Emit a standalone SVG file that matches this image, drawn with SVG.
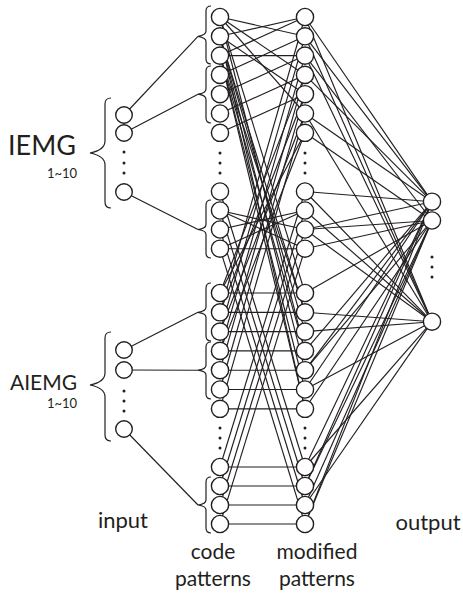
<svg xmlns="http://www.w3.org/2000/svg" width="463" height="593" viewBox="0 0 463 593">
<style>
.n circle{fill:#fff;stroke:#231f20;stroke-width:1.4}
.c line{stroke:#231f20;stroke-width:1.15}
.br{fill:none;stroke:#231f20;stroke-width:1.2}
.d{fill:#231f20}
text{font-family:Lato,"Liberation Sans",sans-serif;fill:#231f20}
</style>
<rect width="463" height="593" fill="#fff"/>
<g id="connectors" class="c">
<!-- input to code braces -->
<line x1="124" y1="115" x2="198" y2="36.3"/>
<line x1="124" y1="133" x2="198" y2="94.2"/>
<line x1="124" y1="192" x2="198" y2="229.5"/>
<line x1="124" y1="350" x2="198" y2="312.3"/>
<line x1="124" y1="370" x2="198" y2="370.2"/>
<line x1="124" y1="429" x2="198" y2="505"/>
<!-- G1 internal -->
<line x1="220" y1="17" x2="305" y2="36.3"/>
<line x1="220" y1="36.3" x2="305" y2="17"/>
<line x1="220" y1="17" x2="305" y2="74.9"/>
<line x1="220" y1="55.6" x2="305" y2="17"/>
<line x1="220" y1="55.6" x2="305" y2="55.6"/>
<line x1="220" y1="74.9" x2="305" y2="36.3"/>
<line x1="220" y1="94.2" x2="305" y2="55.6"/>
<line x1="220" y1="113.5" x2="305" y2="74.9"/>
<line x1="220" y1="132.8" x2="305" y2="94.2"/>
<line x1="220" y1="17" x2="305" y2="113.5"/>
<line x1="220" y1="36.3" x2="305" y2="94.2"/>
<!-- G1 code to G3 mod -->
<line x1="220" y1="17" x2="305" y2="293"/>
<line x1="220" y1="17" x2="305" y2="350.9"/>
<line x1="220" y1="36.3" x2="305" y2="312.3"/>
<line x1="220" y1="36.3" x2="305" y2="331.6"/>
<line x1="220" y1="36.3" x2="305" y2="370.2"/>
<line x1="220" y1="36.3" x2="305" y2="408.8"/>
<line x1="220" y1="55.6" x2="305" y2="312.3"/>
<line x1="220" y1="55.6" x2="305" y2="350.9"/>
<line x1="220" y1="55.6" x2="305" y2="389.5"/>
<line x1="220" y1="55.6" x2="305" y2="408.8"/>
<!-- G3 code to G1 mod -->
<line x1="220" y1="293" x2="305" y2="74.9"/>
<line x1="220" y1="293" x2="305" y2="132.8"/>
<line x1="220" y1="312.3" x2="305" y2="17"/>
<line x1="220" y1="312.3" x2="305" y2="94.2"/>
<line x1="220" y1="331.6" x2="305" y2="36.3"/>
<line x1="220" y1="331.6" x2="305" y2="113.5"/>
<line x1="220" y1="350.9" x2="305" y2="55.6"/>
<line x1="220" y1="350.9" x2="305" y2="132.8"/>
<line x1="220" y1="370.2" x2="305" y2="74.9"/>
<line x1="220" y1="389.5" x2="305" y2="94.2"/>
<line x1="220" y1="408.8" x2="305" y2="113.5"/>
<!-- G2 internal -->
<line x1="220" y1="210.5" x2="305" y2="229.5"/>
<line x1="220" y1="229.5" x2="305" y2="210.5"/>
<line x1="220" y1="248.7" x2="305" y2="210.5"/>
<line x1="220" y1="210.5" x2="305" y2="248.7"/>
<line x1="220" y1="248.7" x2="305" y2="248.7"/>
<!-- G2 <-> G4 -->
<line x1="220" y1="191.5" x2="305" y2="467"/>
<line x1="220" y1="210.5" x2="305" y2="486"/>
<line x1="220" y1="229.5" x2="305" y2="505"/>
<line x1="220" y1="248.7" x2="305" y2="524"/>
<line x1="220" y1="467" x2="305" y2="191.5"/>
<line x1="220" y1="486" x2="305" y2="210.5"/>
<line x1="220" y1="505" x2="305" y2="229.5"/>
<line x1="220" y1="524" x2="305" y2="248.7"/>
<!-- horizontals -->
<line x1="220" y1="293" x2="305" y2="293"/>
<line x1="220" y1="312.3" x2="305" y2="312.3"/>
<line x1="220" y1="331.6" x2="305" y2="331.6"/>
<line x1="220" y1="350.9" x2="305" y2="350.9"/>
<line x1="220" y1="370.2" x2="305" y2="370.2"/>
<line x1="220" y1="389.5" x2="305" y2="389.5"/>
<line x1="220" y1="408.8" x2="305" y2="408.8"/>
<line x1="220" y1="467" x2="305" y2="467"/>
<line x1="220" y1="486" x2="305" y2="486"/>
<line x1="220" y1="505" x2="305" y2="505"/>
<line x1="220" y1="524" x2="305" y2="524"/>
<!-- mod to output -->
<line x1="305" y1="17" x2="432" y2="201.7"/>
<line x1="305" y1="17" x2="432" y2="321.7"/>
<line x1="305" y1="36.3" x2="432" y2="201.7"/>
<line x1="305" y1="36.3" x2="432" y2="321.7"/>
<line x1="305" y1="55.6" x2="432" y2="220.5"/>
<line x1="305" y1="55.6" x2="432" y2="321.7"/>
<line x1="305" y1="74.9" x2="432" y2="201.7"/>
<line x1="305" y1="113.5" x2="432" y2="201.7"/>
<line x1="305" y1="113.5" x2="432" y2="321.7"/>
<line x1="305" y1="132.8" x2="432" y2="220.5"/>
<line x1="305" y1="191.5" x2="432" y2="201.7"/>
<line x1="305" y1="191.5" x2="432" y2="321.7"/>
<line x1="305" y1="210.5" x2="432" y2="321.7"/>
<line x1="305" y1="229.5" x2="432" y2="201.7"/>
<line x1="305" y1="229.5" x2="432" y2="220.5"/>
<line x1="305" y1="229.5" x2="432" y2="321.7"/>
<line x1="305" y1="248.7" x2="432" y2="220.5"/>
<line x1="305" y1="293" x2="432" y2="220.5"/>
<line x1="305" y1="312.3" x2="432" y2="321.7"/>
<line x1="305" y1="331.6" x2="432" y2="321.7"/>
<line x1="305" y1="350.9" x2="432" y2="201.7"/>
<line x1="305" y1="370.2" x2="432" y2="201.7"/>
<line x1="305" y1="370.2" x2="432" y2="220.5"/>
<line x1="305" y1="389.5" x2="432" y2="201.7"/>
<line x1="305" y1="389.5" x2="432" y2="321.7"/>
<line x1="305" y1="408.8" x2="432" y2="220.5"/>
<line x1="305" y1="467" x2="432" y2="201.7"/>
<line x1="305" y1="467" x2="432" y2="321.7"/>
<line x1="305" y1="486" x2="432" y2="201.7"/>
<line x1="305" y1="486" x2="432" y2="220.5"/>
<line x1="305" y1="505" x2="432" y2="220.5"/>
<line x1="305" y1="505" x2="432" y2="321.7"/>
<line x1="305" y1="524" x2="432" y2="201.7"/>
<line x1="305" y1="524" x2="432" y2="220.5"/>
</g>
<g id="braces" class="br">
<path d="M111,98 Q105,98 105,104 L105,141 Q105,150 90,153 Q105,156 105,165 L105,202 Q105,208 111,208"/>
<path d="M111,332 Q105,332 105,338 L105,373 Q105,382 90,385 Q105,388 105,397 L105,435 Q105,441 111,441"/>
<path d="M211,6 Q206,6 206,11 L206,31 Q206,35 198,36.3 Q206,37.6 206,41.6 L206,59 Q206,64 211,64"/>
<path d="M211,66 Q206,66 206,71 L206,89 Q206,93 198,94.2 Q206,95.4 206,99.4 L206,118 Q206,123 211,123"/>
<path d="M211,200 Q206,200 206,205 L206,224.5 Q206,228.5 198,229.5 Q206,230.5 206,234.5 L206,253 Q206,258 211,258"/>
<path d="M211,283 Q206,283 206,288 L206,307.3 Q206,311.3 198,312.3 Q206,313.3 206,317.3 L206,336 Q206,341 211,341"/>
<path d="M211,342 Q206,342 206,347 L206,365.2 Q206,369.2 198,370.2 Q206,371.2 206,375.2 L206,394 Q206,399 211,399"/>
<path d="M211,477 Q206,477 206,482 L206,500 Q206,504 198,505 Q206,506 206,510 L206,528 Q206,533 211,533"/>
</g>
<g id="input" class="n">
<g id="in-iemg-1"><circle cx="124" cy="115" r="8.3"/></g>
<g id="in-iemg-2"><circle cx="124" cy="133" r="8.3"/></g>
<g id="in-iemg-10"><circle cx="124" cy="192" r="8.3"/></g>
<g id="in-aiemg-1"><circle cx="124" cy="350" r="8.3"/></g>
<g id="in-aiemg-2"><circle cx="124" cy="370" r="8.3"/></g>
<g id="in-aiemg-10"><circle cx="124" cy="429" r="8.3"/></g>
</g>
<g id="code" class="n">
<circle cx="220" cy="17" r="8.6"/><circle cx="220" cy="36.3" r="8.6"/><circle cx="220" cy="55.6" r="8.6"/><circle cx="220" cy="74.9" r="8.6"/><circle cx="220" cy="94.2" r="8.6"/><circle cx="220" cy="113.5" r="8.6"/><circle cx="220" cy="132.8" r="8.6"/>
<circle cx="220" cy="191.5" r="8.6"/><circle cx="220" cy="210.5" r="8.6"/><circle cx="220" cy="229.5" r="8.6"/><circle cx="220" cy="248.7" r="8.6"/>
<circle cx="220" cy="293" r="8.6"/><circle cx="220" cy="312.3" r="8.6"/><circle cx="220" cy="331.6" r="8.6"/><circle cx="220" cy="350.9" r="8.6"/><circle cx="220" cy="370.2" r="8.6"/><circle cx="220" cy="389.5" r="8.6"/><circle cx="220" cy="408.8" r="8.6"/>
<circle cx="220" cy="467" r="8.6"/><circle cx="220" cy="486" r="8.6"/><circle cx="220" cy="505" r="8.6"/><circle cx="220" cy="524" r="8.6"/>
</g>
<g id="modified" class="n">
<circle cx="305" cy="17" r="8.6"/><circle cx="305" cy="36.3" r="8.6"/><circle cx="305" cy="55.6" r="8.6"/><circle cx="305" cy="74.9" r="8.6"/><circle cx="305" cy="94.2" r="8.6"/><circle cx="305" cy="113.5" r="8.6"/><circle cx="305" cy="132.8" r="8.6"/>
<circle cx="305" cy="191.5" r="8.6"/><circle cx="305" cy="210.5" r="8.6"/><circle cx="305" cy="229.5" r="8.6"/><circle cx="305" cy="248.7" r="8.6"/>
<circle cx="305" cy="293" r="8.6"/><circle cx="305" cy="312.3" r="8.6"/><circle cx="305" cy="331.6" r="8.6"/><circle cx="305" cy="350.9" r="8.6"/><circle cx="305" cy="370.2" r="8.6"/><circle cx="305" cy="389.5" r="8.6"/><circle cx="305" cy="408.8" r="8.6"/>
<circle cx="305" cy="467" r="8.6"/><circle cx="305" cy="486" r="8.6"/><circle cx="305" cy="505" r="8.6"/><circle cx="305" cy="524" r="8.6"/>
</g>
<g id="output" class="n">
<g id="out-1"><circle cx="432" cy="201.7" r="8.6"/></g>
<g id="out-2"><circle cx="432" cy="220.5" r="8.6"/></g>
<g id="out-n"><circle cx="432" cy="321.7" r="8.6"/></g>
</g>
<g id="dots" class="d">
<circle cx="124" cy="152" r="1.5"/><circle cx="124" cy="163" r="1.5"/><circle cx="124" cy="173" r="1.5"/>
<circle cx="124" cy="391" r="1.5"/><circle cx="124" cy="401" r="1.5"/><circle cx="124" cy="411" r="1.5"/>
<circle cx="220" cy="153" r="1.5"/><circle cx="220" cy="163" r="1.5"/><circle cx="220" cy="173" r="1.5"/>
<circle cx="220" cy="428" r="1.5"/><circle cx="220" cy="438" r="1.5"/><circle cx="220" cy="448" r="1.5"/>
<circle cx="305" cy="153" r="1.5"/><circle cx="305" cy="163" r="1.5"/><circle cx="305" cy="173" r="1.5"/>
<circle cx="305" cy="428" r="1.5"/><circle cx="305" cy="438" r="1.5"/><circle cx="305" cy="448" r="1.5"/>
<circle cx="432" cy="257" r="1.5"/><circle cx="432" cy="267" r="1.5"/><circle cx="432" cy="277" r="1.5"/>
</g>
<g id="labels">
<text x="8" y="155" font-size="27">IEMG</text>
<text x="47" y="178" font-size="13">1~10</text>
<text x="10" y="390" font-size="21">AIEMG</text>
<text x="47" y="408" font-size="13">1~10</text>
<text x="123" y="528" font-size="22" text-anchor="middle">input</text>
<text x="213" y="559" font-size="21" text-anchor="middle">code</text>
<text x="213" y="586" font-size="21" text-anchor="middle">patterns</text>
<text x="317" y="559" font-size="21" text-anchor="middle">modified</text>
<text x="317" y="586" font-size="21" text-anchor="middle">patterns</text>
<text x="428" y="530" font-size="22" text-anchor="middle">output</text>
</g>
</svg>
